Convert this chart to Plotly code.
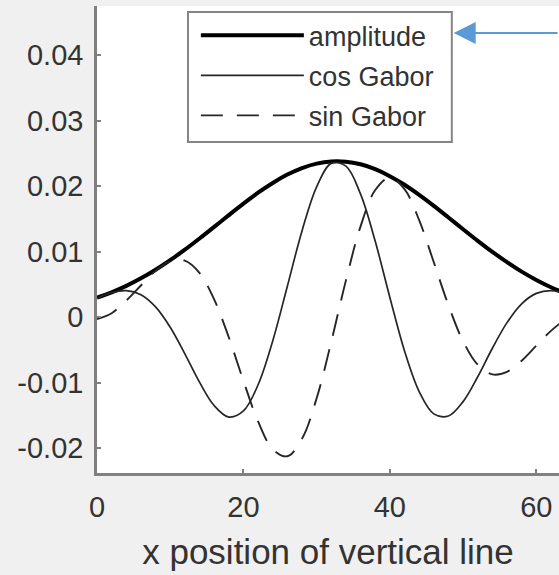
import plotly.graph_objects as go

x_pos = [0, 2, 4, 6, 8, 10, 12, 14, 16, 18, 20, 22, 24, 26, 28, 30, 32,
         34, 36, 38, 40, 42, 44, 46, 48, 50, 52, 54, 56, 58, 60, 62, 64]

amplitude = [0.00296, 0.00379, 0.00477, 0.00592, 0.00723, 0.00869, 0.01029, 0.01200,
             0.01377, 0.01557, 0.01733, 0.01899, 0.02048, 0.02176, 0.02276, 0.02344,
             0.02377, 0.02373, 0.02333, 0.02259, 0.02152, 0.02020, 0.01866, 0.01698,
             0.01521, 0.01342, 0.01165, 0.00996, 0.00839, 0.00695, 0.00567, 0.00456,
             0.00361]

cos_gabor = [0.00288, 0.00374, 0.00405, 0.00342, 0.00156, -0.00155, -0.00561, -0.00993,
             -0.01350, -0.01526, -0.01433, -0.01033, -0.00363, 0.00472, 0.01316, 0.01990,
             0.02347, 0.02306, 0.01877, 0.01157, 0.00300, -0.00516, -0.01137, -0.01477,
             -0.01510, -0.01290, -0.00910, -0.00475, -0.00084, 0.00203, 0.00362, 0.00405,
             0.00360]

sin_gabor = [-0.00030, 0.00060, 0.00253, 0.00483, 0.00706, 0.00855, 0.00862, 0.00674,
             0.00271, -0.00308, -0.00973, -0.01593, -0.02016, -0.02124, -0.01857, -0.01239,
             -0.00376, 0.00561, 0.01386, 0.01940, 0.02131, 0.01953, 0.01480, 0.00837,
             0.00182, -0.00369, -0.00727, -0.00875, -0.00835, -0.00665, -0.00436, -0.00210,
             -0.00029]

x_ticks = [0, 20, 40, 60]
y_ticks = [-0.02, -0.01, 0, 0.01, 0.02, 0.03, 0.04]
y_tick_labels = ["-0.02", "-0.01", "0", "0.01", "0.02", "0.03", "0.04"]

series_names = ["amplitude", "cos Gabor", "sin Gabor"]

FONT = "Liberation Sans, Arial, Helvetica, sans-serif"
TXT = "#333333"
AX = "#808080"

fig = go.Figure()
fig.add_trace(go.Scatter(x=x_pos, y=amplitude, mode="lines", name=series_names[0],
                         legendgroup="a",
                         line=dict(color="#000000", width=4, shape="spline")))
fig.add_trace(go.Scatter(x=x_pos, y=cos_gabor, mode="lines", name=series_names[1],
                         legendgroup="b",
                         line=dict(color="#262626", width=1.7, shape="spline")))
fig.add_trace(go.Scatter(x=x_pos, y=sin_gabor, mode="lines", name=series_names[2],
                         legendgroup="c",
                         line=dict(color="#262626", width=1.9, shape="spline", dash="22px,14px")))

# legend frame
fig.add_shape(type="rect", xref="paper", yref="paper",
              x0=0.197, x1=0.768, y0=0.709, y1=0.987,
              line=dict(color="#858585", width=2), fillcolor="#ffffff", layer="below")

fig.add_annotation(x=0.772, y=0.942, xref="paper", yref="paper", text="",
                   showarrow=True, ax=130, ay=0, arrowhead=2, arrowsize=2.2,
                   arrowwidth=2, arrowcolor="#5b9bd5")

fig.update_layout(
    width=559, height=575,
    margin=dict(l=97, r=0, t=6, b=102),
    paper_bgcolor="#f0f0f0",
    plot_bgcolor="#ffffff",
    font=dict(family=FONT, size=29, color=TXT),
    showlegend=True,
    legend=dict(x=0.214, y=0.989, xanchor="left", yanchor="top",
                bgcolor="rgba(0,0,0,0)", borderwidth=0,
                font=dict(family=FONT, size=27, color=TXT),
                itemwidth=103, tracegroupgap=2),
    xaxis=dict(range=[0, 63.1], tickvals=x_ticks, ticktext=[str(v) for v in x_ticks],
               showgrid=False, zeroline=False, showline=True, linecolor=AX, linewidth=2.5,
               ticks="inside", ticklen=4, tickcolor=AX, tickwidth=1.5,
               tickfont=dict(family=FONT, size=29, color=TXT), ticklabelstandoff=6,
               title=dict(text="x position of vertical line",
                          font=dict(family=FONT, size=35, color=TXT), standoff=18)),
    yaxis=dict(range=[-0.0238, 0.0475], tickvals=y_ticks, ticktext=y_tick_labels,
               showgrid=False, zeroline=False, showline=True, linecolor=AX, linewidth=2.5,
               ticks="inside", ticklen=4, tickcolor=AX, tickwidth=1.5,
               tickfont=dict(family=FONT, size=29, color=TXT), ticklabelstandoff=5),
)

fig.write_html("out.html", config={"displayModeBar": False},
               post_script="document.body.style.margin='0';document.body.style.background='#f0f0f0';")
